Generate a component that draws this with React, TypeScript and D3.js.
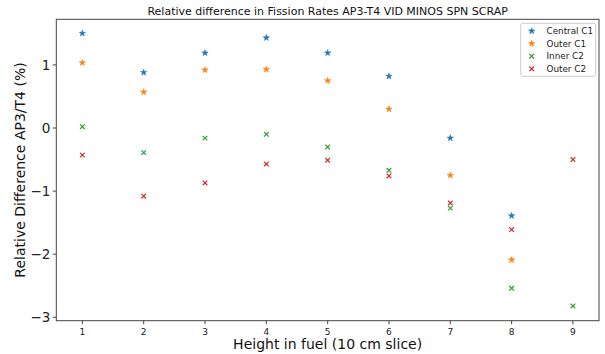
import React from "react";
import * as d3 from "d3";

const heights = [1, 2, 3, 4, 5, 6, 7, 8, 9];
const centralC1 = [1.5, 0.88, 1.19, 1.43, 1.19, 0.82, -0.16, -1.39];
const outerC1 = [1.035, 0.57, 0.92, 0.93, 0.75, 0.3, -0.75, -2.09];
const innerC2 = [0.02, -0.39, -0.16, -0.1, -0.3, -0.67, -1.27, -2.54, -2.82];
const outerC2 = [-0.43, -1.08, -0.87, -0.57, -0.51, -0.76, -1.19, -1.61, -0.5];
const xTicks = [1, 2, 3, 4, 5, 6, 7, 8, 9];
const yTicks = [1, 0, -1, -2, -3];

const series = [
  { name: "Central C1", values: centralC1, color: "#1f77b4", marker: "star" },
  { name: "Outer C1", values: outerC1, color: "#ff7f0e", marker: "star" },
  { name: "Inner C2", values: innerC2, color: "#2ca02c", marker: "x" },
  { name: "Outer C2", values: outerC2, color: "#d62728", marker: "x" },
];

const W = 605, H = 354;
const L = 56.3, R = 599, T = 19.3, B = 320.7;
const FONT = "DejaVu Sans, sans-serif";

function Marker({ type, x, y, color }: { type: string; x: number; y: number; color: string }) {
  if (type === "star") {
    const p = d3.symbol().type(d3.symbolStar).size(12)();
    return <path d={p as string} transform={`translate(${x},${y})`} fill={color} stroke={color} strokeWidth={0.6} />;
  }
  const s = 2.3;
  return (
    <path
      d={`M${x - s},${y - s}L${x + s},${y + s}M${x - s},${y + s}L${x + s},${y - s}`}
      stroke={color}
      strokeWidth={1.2}
      fill="none"
    />
  );
}

export default function App() {
  const x = d3.scaleLinear().domain([0.575, 9.425]).range([L, R]);
  const y = d3.scaleLinear().domain([-3.054, 1.723]).range([B, T]);
  const fmt = (v: number) => (v < 0 ? "\u2212" + Math.abs(v) : String(v));
  return (
    <svg width={W} height={H} style={{ position: "absolute", left: 0, top: 0 }} fontFamily={FONT}>
      <rect x={0} y={0} width={W} height={H} fill="white" />
      {series.map((s) =>
        s.values.map((v, i) => (
          <Marker key={s.name + i} type={s.marker} x={x(heights[i])} y={y(v)} color={s.color} />
        ))
      )}
      <rect x={L} y={T} width={R - L} height={B - T} fill="none" stroke="#444" strokeWidth={1} />
      {xTicks.map((t) => (
        <g key={"x" + t}>
          <line x1={x(t)} x2={x(t)} y1={B} y2={B + 3.5} stroke="#444" />
          <text x={x(t)} y={B + 14} textAnchor="middle" fontSize={9} fill="#222">
            {t}
          </text>
        </g>
      ))}
      {yTicks.map((t) => (
        <g key={"y" + t}>
          <line x1={L - 3.5} x2={L} y1={y(t)} y2={y(t)} stroke="#444" />
          <text x={L - 6} y={y(t)} dy="0.36em" textAnchor="end" fontSize={13.5} fill="#222">
            {fmt(t)}
          </text>
        </g>
      ))}
      <text x={(L + R) / 2} y={14.5} textAnchor="middle" fontSize={11} fill="#111">
        Relative difference in Fission Rates AP3-T4 VID MINOS SPN SCRAP
      </text>
      <text x={(L + R) / 2} y={349} textAnchor="middle" fontSize={14} fill="#111">
        Height in fuel (10 cm slice)
      </text>
      <text
        transform={`translate(25,${(T + B) / 2}) rotate(-90)`}
        textAnchor="middle"
        fontSize={14}
        fill="#111"
      >
        Relative Difference AP3/T4 (%)
      </text>
      <g>
        <rect x={520.7} y={23.3} width={75} height={53} rx={2} fill="white" fillOpacity={0.8} stroke="#ccc" />
        {series.map((s, i) => (
          <g key={"lg" + s.name}>
            <Marker type={s.marker} x={531.7} y={31 + i * 12.6} color={s.color} />
            <text x={546.5} y={31 + i * 12.6} dy="0.36em" fontSize={8.8} fill="#222">
              {s.name}
            </text>
          </g>
        ))}
      </g>
    </svg>
  );
}
